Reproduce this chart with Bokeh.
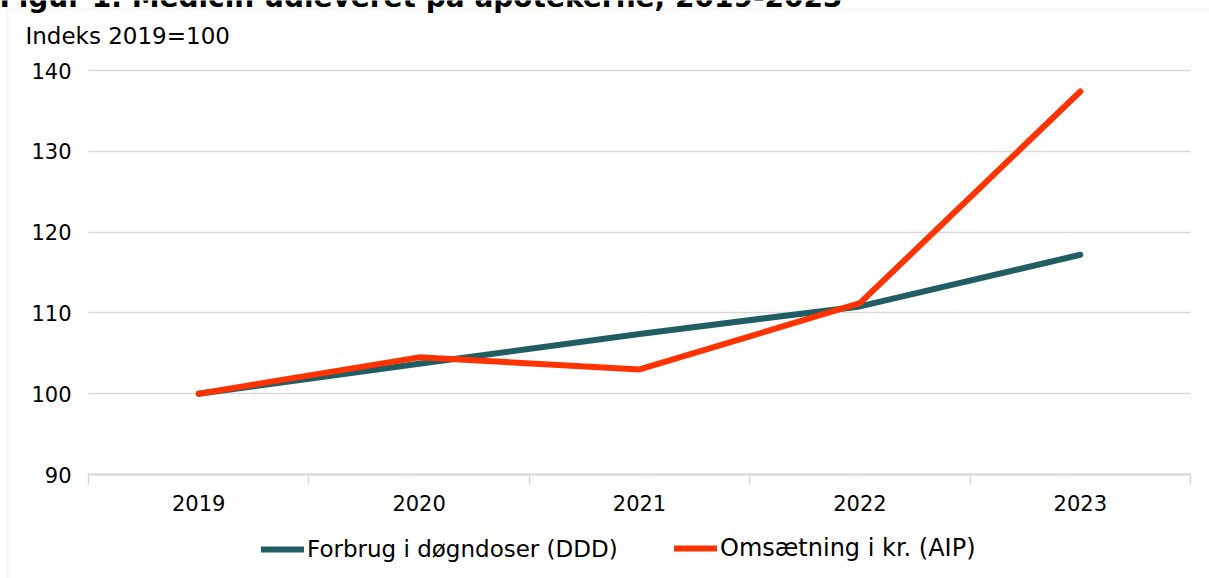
from bokeh.plotting import figure
from bokeh.models import (Range1d, FixedTicker, Label, Legend, LegendItem,
                          BoxAnnotation)
from bokeh.embed import file_html
from bokeh.resources import INLINE

# ---- data ----
years = [2019, 2020, 2021, 2022, 2023]
ddd = [100.0, 103.7, 107.4, 110.8, 117.2]   # Forbrug i døgndoser (DDD)
aip = [100.0, 104.5, 103.0, 111.2, 137.4]   # Omsætning i kr. (AIP)
y_ticks = [90, 100, 110, 120, 130, 140]
series_names = ["Forbrug i døgndoser (DDD)", "Omsætning i kr. (AIP)"]
title_text = "Figur 1. Medicin udleveret på apotekerne, 2019-2023"
y_title = "Indeks 2019=100"

FONT = "DejaVu Sans"
TEAL = "#215E63"
RED = "#FF3300"
GRID = "#D9D9D9"
FS = "21px"

# ---- layout (pixels on the canvas) ----
W, H = 1209, 578
PL, PR, PT, PB = 88, 1190, 70, 474        # plot-area box
x0, x1 = years[0] - 0.5, years[-1] + 0.5
ppx = (PR - PL) / (x1 - x0)
ppy = (PB - PT) / (y_ticks[-1] - y_ticks[0])
xr = Range1d(x0 - PL / ppx, x1 + (W - PR) / ppx)
yr = Range1d(y_ticks[0] - (H - PB) / ppy, y_ticks[-1] + PT / ppy)

p = figure(width=W, height=H, output_backend="svg", toolbar_location=None,
           x_range=xr, y_range=yr, min_border=0,
           min_border_left=0, min_border_right=0,
           min_border_top=0, min_border_bottom=0)
p.outline_line_color = None
p.background_fill_color = "white"
p.border_fill_color = "white"

# grid
p.xgrid.grid_line_color = None
yg = p.ygrid[0]
yg.ticker = FixedTicker(ticks=y_ticks)
if "cross_bounds" in yg.properties():
    yg.grid_line_color = GRID
    yg.grid_line_width = 1.5
    yg.cross_bounds = (x0, x1)
else:
    yg.grid_line_color = None
    p.segment(x0=[x0] * (len(y_ticks) - 1), x1=[x1] * (len(y_ticks) - 1),
              y0=y_ticks[1:], y1=y_ticks[1:], line_color=GRID,
              line_width=1.5, level="underlay")

# y axis (drawn at the left edge of the plot area)
ya = p.yaxis[0]
ya.fixed_location = x0
ya.ticker = FixedTicker(ticks=y_ticks)
ya.axis_line_color = None
ya.major_tick_line_color = None
ya.minor_tick_line_color = None
ya.major_tick_out = 0
ya.major_label_standoff = 17
ya.major_label_text_font = FONT
ya.major_label_text_font_size = FS
ya.major_label_text_color = "#000000"

# x axis (ticks between categories)
xa = p.xaxis[0]
xa.fixed_location = y_ticks[0]
xa.bounds = (x0, x1)
bounds = [y - 0.5 for y in years] + [years[-1] + 0.5]
xa.ticker = FixedTicker(ticks=years, minor_ticks=bounds)
xa.major_label_overrides = {y: str(y) for y in years}
xa.axis_line_color = GRID
xa.axis_line_width = 2
xa.major_tick_line_color = None
xa.major_tick_out = 0
xa.major_tick_in = 0
xa.minor_tick_line_color = GRID
xa.minor_tick_line_width = 1.5
xa.minor_tick_out = 10
xa.minor_tick_in = 0
xa.major_label_standoff = 10
xa.major_label_text_font = FONT
xa.major_label_text_font_size = FS
xa.major_label_text_color = "#000000"

# lines
r1 = p.line(years, ddd, line_color=TEAL, line_width=6, line_cap="round",
            line_join="round")
r2 = p.line(years, aip, line_color=RED, line_width=6, line_cap="round",
            line_join="round")

# legend below the axis
def make_legend(label, renderer, x, fs):
    return Legend(items=[LegendItem(label=label, renderers=[renderer])],
                  location=(x, H - 562), orientation="horizontal",
                  background_fill_alpha=0, border_line_color=None,
                  padding=0, margin=0, glyph_width=43, glyph_height=26,
                  label_height=26, label_standoff=3,
                  label_text_font=FONT, label_text_font_size=fs,
                  label_text_color="#000000")

p.add_layout(make_legend(series_names[0], r1, 261, "23px"))
p.add_layout(make_legend(series_names[1], r2, 674, "24px"))

# y-axis title "Indeks 2019=100"
p.add_layout(Label(x=25, y=H - 43 + 8, x_units="screen", y_units="screen",
                   text=y_title, text_font=FONT, text_font_size="23px",
                   text_color="#000000", text_baseline="alphabetic"))

# cropped figure title at the very top
p.add_layout(Label(x=-1, y=H - 6 + 9, x_units="screen", y_units="screen",
                   text=title_text, text_font=FONT, text_font_size="28px",
                   text_font_style="bold", text_color="#000000",
                   text_baseline="alphabetic"))

# thin grey frame border (left and top)
p.add_layout(BoxAnnotation(left=7, right=W + 50, top=H - 9, bottom=-50,
                           left_units="screen", right_units="screen",
                           top_units="screen", bottom_units="screen",
                           fill_alpha=0, line_color=GRID, line_width=2,
                           level="underlay"))

open("out.html", "w").write(file_html(p, INLINE))
